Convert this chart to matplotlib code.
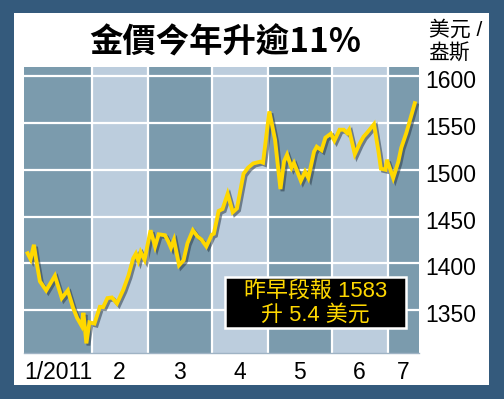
import matplotlib
matplotlib.use("Agg")
import matplotlib.pyplot as plt
import matplotlib.patheffects as pe
import matplotlib.transforms as mtransforms
from matplotlib.patches import Rectangle

# ---- data ----
title = "金價今年升逾11%"
unit_label = "美元 /\n盎斯"
note_lines = ["昨早段報 1583", "升 5.4 美元"]
month_labels = ["1/2011", "2", "3", "4", "5", "6", "7"]
# month boundaries on the trading-day axis
month_edges = [0, 22.6, 41.2, 62.8, 81.4, 102.6, 121.2, 131.8]
y_ticks = [1350, 1400, 1450, 1500, 1550, 1600]
y_range = [1304, 1610]

day = [1.2, 2.2, 3.3, 4.0, 5.3, 7.4, 10.3, 12.6, 14.6, 16.4, 17.7, 19.2, 19.8,
       20.8, 21.8, 23.5, 25.3, 26.4, 27.8, 29.3, 31.0, 33.1, 34.8, 36.4, 37.3,
       38.1, 38.9, 40.2, 42.2, 43.7, 44.9, 47.0, 48.1, 49.0, 50.0, 51.7, 53.2,
       54.5, 56.3, 57.8, 59.2, 60.8, 62.6, 63.3, 64.9, 66.2, 67.9, 69.6, 71.0,
       73.2, 74.7, 76.4, 78.8, 79.7, 81.8, 83.7, 85.5, 86.7, 87.7, 89.2, 90.0,
       92.3, 93.7, 94.8, 96.7, 97.6, 99.2, 100.5, 102.3, 103.5, 105.2, 106.6,
       107.7, 108.4, 110.3, 111.9, 113.2, 114.4, 116.7, 118.2, 119.0, 120.5,
       121.0, 123.1, 124.8, 125.8, 127.5, 130.3]
price = [1410.7, 1404.3, 1419.8, 1404.8, 1380.7, 1370.9, 1386.6, 1362.7, 1370.9,
         1352.0, 1341.6, 1333.1, 1347.0, 1314.3, 1336.8, 1335.5, 1353.4, 1353.1,
         1362.7, 1363.4, 1357.0, 1371.6, 1386.6, 1405.1, 1410.2, 1402.7, 1412.0,
         1403.7, 1435.3, 1418.0, 1431.0, 1430.0, 1423.3, 1416.6, 1425.2, 1397.9,
         1403.2, 1421.4, 1435.3, 1428.9, 1425.2, 1418.0, 1430.5, 1431.6, 1456.0,
         1458.0, 1474.4, 1454.6, 1458.7, 1495.8, 1502.2, 1506.8, 1508.7, 1507.6,
         1562.5, 1532.2, 1479.4, 1509.0, 1516.2, 1502.2, 1507.3, 1488.3, 1498.0,
         1491.2, 1519.4, 1524.7, 1521.0, 1534.4, 1538.6, 1531.2, 1542.9, 1542.9,
         1539.4, 1542.9, 1516.7, 1527.9, 1535.4, 1539.7, 1548.8, 1519.4, 1501.2,
         1500.1, 1510.8, 1491.2, 1508.7, 1523.7, 1539.7, 1571.3]

# ---- styling ----
FRAME = "#345a7c"
DARK = "#7b9bad"
LIGHT = "#bccddd"
LINE = "#ffd800"
W, H = 504, 399

plt.rcParams["font.family"] = ["Liberation Sans", "Noto Sans CJK TC", "DejaVu Sans"]

fig = plt.figure(figsize=(W / 100, H / 100), dpi=100, facecolor=FRAME)

# white panel
fig.patches.append(Rectangle((14 / W, 1 - 385 / H), 475 / W, 372 / H,
                             transform=fig.transFigure, facecolor="white",
                             edgecolor="none", zorder=-5))

ax = fig.add_axes([24 / W, 1 - 353 / H, 395.3 / W, 286 / H])
ax.set_zorder(2)
ax.set_xlim(month_edges[0], month_edges[-1])
ax.set_ylim(*y_range)

# alternating month columns
for i in range(len(month_edges) - 1):
    ax.axvspan(month_edges[i], month_edges[i + 1],
               color=DARK if i % 2 == 0 else LIGHT, zorder=0, lw=0)
for e in month_edges[1:-1]:
    ax.axvline(e, color="white", lw=1.6, zorder=1)
for v in y_ticks:
    ax.axhline(v, color="white", lw=1.6, zorder=1)

ax.plot(day, price, color=LINE, lw=2.8, zorder=3, solid_joinstyle="miter",
        path_effects=[pe.SimpleLineShadow(offset=(1.5, -1.5),
                                          shadow_color="#2a3a48", alpha=0.55),
                      pe.Normal()])

for s in ax.spines.values():
    s.set_visible(False)
ax.spines["bottom"].set_visible(True)
ax.spines["bottom"].set_color("#9fb3c4")
ax.spines["bottom"].set_linewidth(1)

centers = [(month_edges[i] + month_edges[i + 1]) / 2 for i in range(len(month_labels))]
ax.set_xticks(centers)
ax.set_xticklabels(month_labels)
ax.set_yticks(y_ticks)
ax.set_yticklabels([str(v) for v in y_ticks])
ax.yaxis.tick_right()
ax.tick_params(axis="both", length=0, labelsize=16.5, colors="black")
ax.tick_params(axis="y", pad=4)
ax.tick_params(axis="x", pad=6)
shift = mtransforms.ScaledTranslation(0, -3 / 100, fig.dpi_scale_trans)
for lab in ax.get_yticklabels():
    lab.set_transform(lab.get_transform() + shift)

# annotation box
ax.add_patch(Rectangle((0.5085, 0.0874), 0.4571, 0.1794, transform=ax.transAxes,
                       facecolor="black", edgecolor="white", lw=1.8, zorder=5))
ax.text(0.737, 0.2178, note_lines[0], transform=ax.transAxes, ha="center",
        va="center", color=LINE, fontsize=15.8, zorder=6)
ax.text(0.737, 0.1329, note_lines[1], transform=ax.transAxes, ha="center",
        va="center", color=LINE, fontsize=15.8, zorder=6)

# title and unit
fig.text(225 / W, 1 - 43 / H, title, ha="center", va="center", fontsize=24,
         fontweight="black", color="black",
         family=["Noto Sans CJK TC", "DejaVu Sans"])
fig.text(429 / W, 1 - 41 / H, unit_label, ha="left", va="center", fontsize=15,
         color="black", linespacing=1.2)

fig.savefig("out.png", dpi=100, facecolor=FRAME)
